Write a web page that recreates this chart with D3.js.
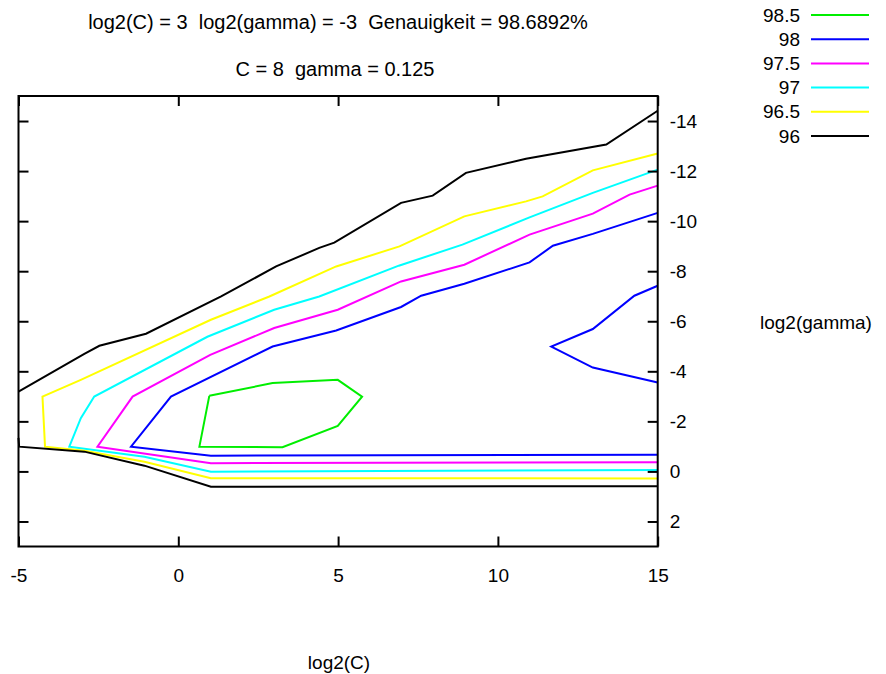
<!DOCTYPE html>
<html>
<head>
<meta charset="utf-8">
<script src="https://cdn.jsdelivr.net/npm/d3@7"></script>
<style>
  body { margin: 0; background: #fff; }
  svg { display: block; font-family: "Liberation Sans", Arial, sans-serif; }
  .axis text { font-size: 19px; fill: #000; }
  .axis line { stroke: #000; stroke-width: 2; }
  .lbl { font-size: 19px; fill: #000; white-space: pre; }
  .title { font-size: 20px; }
</style>
</head>
<body>
<div id="chart"></div>
<script>
const svgWidth = 886;
const svgHeight = 674;

// contour levels, top to bottom as in the key
const levels = ['98.5', '98', '97.5', '97', '96.5', '96'];
const levelColors = ['#00ee00', '#0000ff', '#ff00ff', '#00ffff', '#ffff00', '#000000'];

const xTicks = [-5, 0, 5, 10, 15];
const yTicks = [-14, -12, -10, -8, -6, -4, -2, 0, 2];

// contour lines, [log2(C), log2(gamma)]
const c985 = [[0.97, -3.02], [2.95, -3.53], [4.99, -3.66], [5.75, -2.99], [4.99, -1.82],
  [3.26, -0.97], [0.66, -0.99], [0.97, -3.02]];
const c98a = [[15, -0.67], [1.02, -0.63], [-1.48, -0.99], [-0.23, -2.99], [2.95, -4.99],
  [4.94, -5.63], [6.97, -6.57], [7.6, -7.02], [8.95, -7.5], [10.99, -8.35], [11.72, -9.02],
  [12.97, -9.49], [15, -10.33]];
const c98b = [[15, -7.42], [14.27, -7.02], [12.97, -5.69], [11.67, -4.99], [12.97, -4.15], [15, -3.55]];
const c975 = [[15, -0.37], [1.02, -0.33], [-2.53, -0.99], [-1.43, -2.99], [1.0, -4.66],
  [3.0, -5.73], [4.99, -6.46], [6.97, -7.59], [8.95, -8.26], [10.99, -9.46], [12.97, -10.3],
  [14.12, -11.06], [15, -11.42]];
const c97 = [[15, -0.06], [1.02, 0.01], [-1.06, -0.59], [-3.41, -0.99], [-3.05, -2.13],
  [-2.63, -2.99], [0.91, -5.38], [3.0, -6.46], [4.41, -6.99], [6.9, -8.22], [8.89, -9.06],
  [10.99, -10.15], [12.97, -11.13], [15, -12.06]];
const c965 = [[15, 0.28], [1.02, 0.27], [-1.06, -0.39], [-2.94, -0.83], [-4.17, -0.99],
  [-4.25, -2.99], [-3.05, -3.66], [1.02, -6.06], [2.85, -6.99], [4.94, -8.19], [6.92, -8.99],
  [8.95, -10.19], [10.88, -10.79], [11.4, -10.99], [12.97, -12.03], [15, -12.7]];
const c96a = [[-5, -3.19], [-2.94, -4.7], [-2.47, -5.02], [-1.01, -5.5], [1.34, -6.99],
  [3.06, -8.19], [4.41, -8.93], [4.88, -9.14], [6.97, -10.73], [7.96, -11.02], [9.0, -11.93],
  [10.88, -12.49], [13.39, -13.06], [15, -14.41]];
const c96b = [[-5, -1.34], [-4.98, -0.99], [-2.94, -0.79], [-1.06, -0.23], [1.02, 0.61], [15, 0.59]];

const contours = [
  {level: '98.5', pts: c985}, {level: '98', pts: c98a}, {level: '98', pts: c98b},
  {level: '97.5', pts: c975}, {level: '97', pts: c97}, {level: '96.5', pts: c965},
  {level: '96', pts: c96a}, {level: '96', pts: c96b}
];

const plot = {left: 18.5, right: 657.7, top: 96, bottom: 546.5};

const x = d3.scaleLinear().domain([-5, 15]).range([plot.left, plot.right]);
const y = d3.scaleLinear().domain([-15, 3]).range([plot.top, plot.bottom]);
const color = d3.scaleOrdinal().domain(levels).range(levelColors);
const fmt = d => String(d); // plain hyphen minus, like the original

const svg = d3.select('#chart').append('svg')
  .attr('width', svgWidth).attr('height', svgHeight);

// titles
svg.append('text').attr('class', 'lbl title').attr('x', 338).attr('y', 29).attr('text-anchor', 'middle')
  .text('log2(C) = 3  log2(gamma) = -3  Genauigkeit = 98.6892%');
svg.append('text').attr('class', 'lbl title').attr('x', 335).attr('y', 76).attr('text-anchor', 'middle')
  .text('C = 8  gamma = 0.125');

//contour lines
const line = d3.line().x(d => x(d[0])).y(d => y(d[1]));
svg.append('g').selectAll('path').data(contours).join('path')
  .attr('d', d => line(d.pts))
  .attr('fill', 'none')
  .attr('stroke', d => color(d.level))
  .attr('stroke-width', 2);

// axes, ticks pointing inward on all four sides
svg.append('g').attr('class', 'axis')
  .attr('transform', `translate(0,${plot.bottom})`)
  .call(d3.axisBottom(x).tickValues(xTicks).tickSize(-10).tickPadding(22).tickFormat(fmt));
svg.append('g').attr('class', 'axis')
  .attr('transform', `translate(0,${plot.top})`)
  .call(d3.axisTop(x).tickValues(xTicks).tickSize(-10).tickFormat(''));
svg.append('g').attr('class', 'axis')
  .attr('transform', `translate(${plot.left},0)`)
  .call(d3.axisLeft(y).tickValues(yTicks).tickSize(-10).tickFormat(''));
svg.append('g').attr('class', 'axis')
  .attr('transform', `translate(${plot.right},0)`)
  .call(d3.axisRight(y).tickValues(yTicks).tickSize(-10).tickPadding(12).tickFormat(fmt));
svg.selectAll('.axis .domain').remove();
svg.selectAll('.axis text').attr('font-family', null).attr('font-size', null);

// frame
svg.append('rect')
  .attr('x', plot.left).attr('y', plot.top)
  .attr('width', plot.right - plot.left).attr('height', plot.bottom - plot.top)
  .attr('fill', 'none').attr('stroke', '#000').attr('stroke-width', 2);

// axis titles
svg.append('text').attr('class', 'lbl').attr('x', 339).attr('y', 669).attr('text-anchor', 'middle').text('log2(C)');
svg.append('text').attr('class', 'lbl').attr('x', 760).attr('y', 329).text('log2(gamma)');

// key
const key = svg.append('g').selectAll('g').data(levels).join('g')
  .attr('transform', (d, i) => `translate(0,${15 + i * 24.2})`);
key.append('text').attr('class', 'lbl').attr('x', 800).attr('y', 0).attr('dy', '0.35em')
  .attr('text-anchor', 'end').text(d => d);
key.append('line').attr('x1', 811).attr('x2', 869).attr('y1', 0).attr('y2', 0)
  .attr('stroke', d => color(d)).attr('stroke-width', 2);
</script>
</body>
</html>
